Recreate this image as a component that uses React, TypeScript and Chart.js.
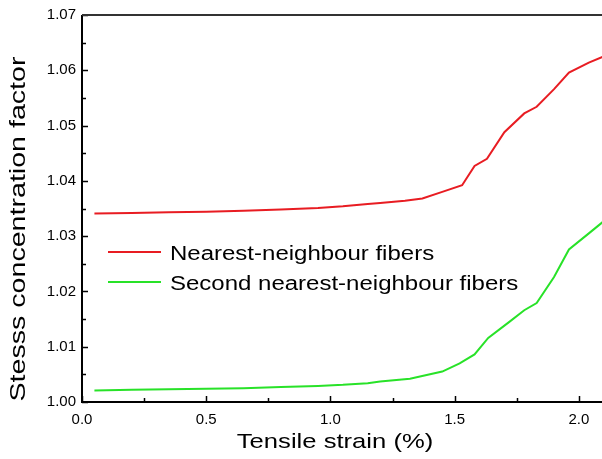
import React, { useEffect, useRef } from "react";
import { Chart, registerables } from "chart.js";

Chart.register(...registerables);

const strainNearest = [0.05, 0.2, 0.35, 0.5, 0.65, 0.8, 0.95, 1.05, 1.15, 1.2, 1.3, 1.37, 1.45, 1.53, 1.58, 1.63, 1.7, 1.78, 1.83, 1.9, 1.96, 2.04, 2.1];
const nearestValues = [1.0341, 1.0342, 1.0343, 1.0344, 1.0346, 1.0348, 1.0351, 1.0354, 1.0358, 1.036, 1.0364, 1.0368, 1.038, 1.0392, 1.0427, 1.044, 1.0488, 1.0522, 1.0534, 1.0566, 1.0596, 1.0614, 1.0625];
const strainSecond = [0.05, 0.2, 0.35, 0.5, 0.65, 0.8, 0.95, 1.05, 1.15, 1.2, 1.32, 1.45, 1.52, 1.58, 1.635, 1.72, 1.78, 1.83, 1.9, 1.96, 2.04, 2.1];
const secondValues = [1.0021, 1.0022, 1.0023, 1.0024, 1.0025, 1.0027, 1.0029, 1.0031, 1.0034, 1.0037, 1.0042, 1.0055, 1.007, 1.0086, 1.0116, 1.0145, 1.0166, 1.0179, 1.0226, 1.0276, 1.0305, 1.0327];

const xMajorTicks = [0, 0.5, 1.0, 1.5, 2.0];
const xMinorTicks = [0.25, 0.75, 1.25, 1.75];
const yMajorTicks = [1.0, 1.01, 1.02, 1.03, 1.04, 1.05, 1.06, 1.07];
const yMinorTicks = [1.005, 1.015, 1.025, 1.035, 1.045, 1.055, 1.065];

const seriesLabels = ["Nearest-neighbour fibers", "Second nearest-neighbour fibers"];
const xTitle = "Tensile strain (%)";
const yTitle = "Stesss concentration factor";

const RED = "rgb(232,28,34)";
const GREEN = "rgb(40,226,40)";
const FONT = "'Liberation Sans', Arial, sans-serif";

function stretchedText(ctx: CanvasRenderingContext2D, text: string, x: number, y: number, size: number, sx: number, align: CanvasTextAlign, rot = 0) {
  ctx.save();
  ctx.translate(x, y);
  if (rot) ctx.rotate(rot);
  ctx.scale(sx, 1);
  ctx.font = `${size}px ${FONT}`;
  ctx.fillStyle = "#000";
  ctx.textAlign = align;
  ctx.textBaseline = "alphabetic";
  ctx.fillText(text, 0, 0);
  ctx.restore();
}

const framePlugin = {
  id: "frame",
  afterDraw(chart: any) {
    const { ctx, chartArea, scales } = chart;
    const { left, right, top, bottom } = chartArea;
    const xs = scales.x;
    const ys = scales.y;
    ctx.save();
    ctx.strokeStyle = "#000";
    ctx.lineWidth = 1.5;
    ctx.beginPath();
    xMajorTicks.forEach((v) => {
      const px = Math.round(xs.getPixelForValue(v)) + 0.5;
      ctx.moveTo(px, bottom);
      ctx.lineTo(px, bottom - 6);
    });
    xMinorTicks.forEach((v) => {
      const px = Math.round(xs.getPixelForValue(v)) + 0.5;
      ctx.moveTo(px, bottom);
      ctx.lineTo(px, bottom - 4);
    });
    yMajorTicks.forEach((v) => {
      const py = Math.round(ys.getPixelForValue(v)) + 0.5;
      ctx.moveTo(left, py);
      ctx.lineTo(left + 6, py);
    });
    yMinorTicks.forEach((v) => {
      const py = Math.round(ys.getPixelForValue(v)) + 0.5;
      ctx.moveTo(left, py);
      ctx.lineTo(left + 4, py);
    });
    ctx.stroke();
    ctx.lineWidth = 2;
    ctx.beginPath();
    ctx.moveTo(left, top);
    ctx.lineTo(left, bottom);
    ctx.lineTo(right, bottom);
    ctx.stroke();
    ctx.strokeStyle = "#333";
    ctx.beginPath();
    ctx.moveTo(left, top);
    ctx.lineTo(right, top);
    ctx.stroke();

    // legend
    const colors = [RED, GREEN];
    seriesLabels.forEach((lab, i) => {
      const ly = 252 + i * 30;
      ctx.strokeStyle = colors[i];
      ctx.lineWidth = 2;
      ctx.beginPath();
      ctx.moveTo(108, ly);
      ctx.lineTo(161, ly);
      ctx.stroke();
      stretchedText(ctx, lab, 170, ly + 7.5, 20, 1.2, "left");
    });

    // axis titles
    stretchedText(ctx, xTitle, 335, 448, 21, 1.22, "center");
    stretchedText(ctx, yTitle, 25, 229, 22, 1.3, "center", -Math.PI / 2);
    ctx.restore();
  },
};

export default function App() {
  const ref = useRef<HTMLCanvasElement>(null);
  useEffect(() => {
    document.body.style.margin = "0";
    const chart = new Chart(ref.current as HTMLCanvasElement, {
      type: "line",
      data: {
        datasets: [
          {
            label: seriesLabels[0],
            data: strainNearest.map((x, i) => ({ x, y: nearestValues[i] })),
            borderColor: RED,
            borderWidth: 2,
            pointRadius: 0,
            tension: 0,
          },
          {
            label: seriesLabels[1],
            data: strainSecond.map((x, i) => ({ x, y: secondValues[i] })),
            borderColor: GREEN,
            borderWidth: 2,
            pointRadius: 0,
            tension: 0,
          },
        ],
      },
      options: {
        animation: false,
        responsive: true,
        maintainAspectRatio: false,
        layout: { padding: { top: 14, right: 0, left: 0, bottom: 0 } },
        plugins: { legend: { display: false }, tooltip: { enabled: false } },
        scales: {
          x: {
            type: "linear",
            min: 0,
            max: 2.093,
            grid: { display: false, drawTicks: false },
            border: { display: false },
            afterBuildTicks: (s: any) => {
              s.ticks = xMajorTicks.map((v) => ({ value: v }));
            },
            afterFit: (s: any) => {
              s.height = 57;
            },
            ticks: {
              padding: 9,
              maxRotation: 0,
              autoSkip: false,
              color: "#000",
              font: { family: FONT, size: 15 },
              callback: (v: any) => Number(v).toFixed(1),
            },
          },
          y: {
            type: "linear",
            min: 1.0,
            max: 1.07,
            grid: { display: false, drawTicks: false },
            border: { display: false },
            afterBuildTicks: (s: any) => {
              s.ticks = yMajorTicks.map((v) => ({ value: v }));
            },
            afterFit: (s: any) => {
              s.width = 82;
            },
            ticks: {
              padding: 6,
              autoSkip: false,
              color: "#000",
              font: { family: FONT, size: 15 },
              callback: (v: any) => Number(v).toFixed(2),
            },
          },
        },
      },
      plugins: [framePlugin],
    });
    return () => chart.destroy();
  }, []);
  return (
    <div style={{ position: "relative", width: 602, height: 459, background: "#fff" }}>
      <canvas ref={ref} />
    </div>
  );
}
